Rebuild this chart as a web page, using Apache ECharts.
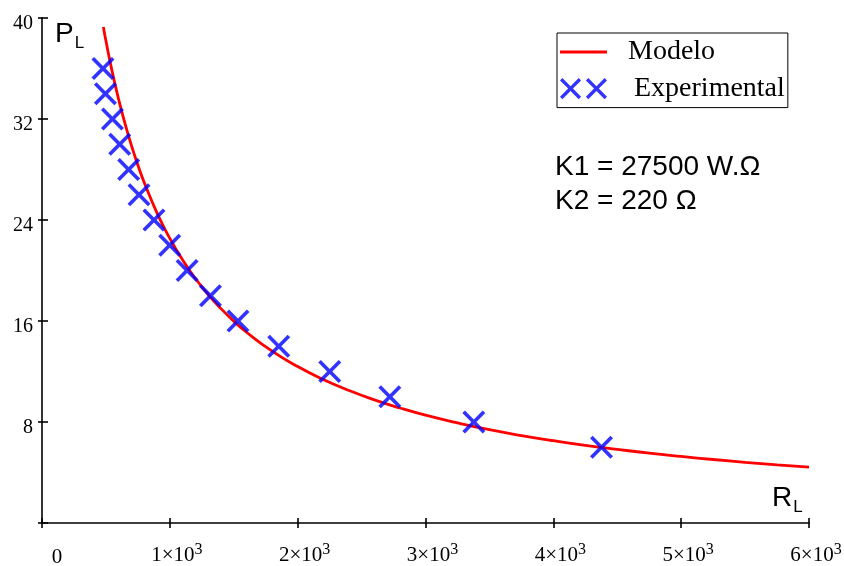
<!DOCTYPE html>
<html>
<head>
<meta charset="utf-8">
<script src="https://cdn.jsdelivr.net/npm/echarts@6/dist/echarts.min.js"></script>
<style>
  html, body { margin: 0; padding: 0; background: #fff; }
  #chart { width: 844px; height: 566px; }
</style>
</head>
<body>
<div id="chart"></div>
<script>
// Load resistance R_L (ohm) and delivered power P_L (W)
const modelR = [480, 500, 550, 600, 650, 700, 750, 800, 900, 1000, 1100, 1200, 1300, 1400, 1500,
                1600, 1800, 2000, 2200, 2400, 2600, 2800, 3000, 3250, 3500, 3750, 4000, 4250,
                4500, 4750, 5000, 5250, 5500, 5750, 6000];
const modelP = [39.29, 38.19, 35.71, 33.54, 31.61, 29.89, 28.35, 26.96, 24.55, 22.54, 20.83, 19.37,
                18.09, 16.98, 15.99, 15.11, 13.61, 12.39, 11.36, 10.50, 9.75, 9.11, 8.54, 7.93,
                7.39, 6.93, 6.52, 6.15, 5.83, 5.53, 5.27, 5.03, 4.81, 4.61, 4.42];

const expR = [477, 496, 551, 608, 678, 759, 876, 999, 1135, 1318, 1533, 1852, 2251, 2721, 3378, 4377];
const expP = [36, 34, 32, 30, 28, 26, 24, 22, 20, 18, 16, 14, 12, 10, 8, 6];

const xTickMantissa = ['0', '1', '2', '3', '4', '5', '6'];
const constantsText = ['K1 = 27500 W.\u03A9', 'K2 = 220 \u03A9'];

const serif = 'Liberation Serif';
const sans = 'Liberation Sans';

// filled "X" glyph, 22x22
const crossPath = 'path://M0,2.5L2.5,0L11,8.5L19.5,0L22,2.5L13.5,11L22,19.5L19.5,22L11,13.5L2.5,22L0,19.5L8.5,11Z';
const doubleCrossPath = 'path://M0,2.5L2.5,0L11,8.5L19.5,0L22,2.5L13.5,11L22,19.5L19.5,22L11,13.5L2.5,22L0,19.5L8.5,11Z' +
  'M27,2.5L29.5,0L38,8.5L46.5,0L49,2.5L40.5,11L49,19.5L46.5,22L38,13.5L29.5,22L27,19.5L35.5,11Z';
// short horizontal bar used as the line key
const lineKeyPath = 'path://M0,0L47,0L47,2.8L0,2.8Z';

const axisLineStyle = { color: '#000', width: 1.6 };

function xLabel(v) {
  const i = Math.round(v / 1000);
  if (i === 0) return '{z|0}';
  return '{n|' + xTickMantissa[i] + '\u00D710}{s|3}';
}

const chart = echarts.init(document.getElementById('chart'), null, { renderer: 'canvas' });

chart.setOption({
  animation: false,
  backgroundColor: '#fff',
  grid: { left: 42, right: 35, top: 18, bottom: 43, containLabel: false, outerBoundsMode: 'none' },
  xAxis: [
    {
      type: 'value', min: 0, max: 6000, interval: 1000,
      axisLine: { show: true, onZero: false, lineStyle: axisLineStyle },
      axisTick: { show: true, length: 5, lineStyle: axisLineStyle },
      splitLine: { show: false },
      axisLabel: {
        margin: 19,
        formatter: xLabel,
        rich: {
          z: { fontFamily: serif, fontSize: 21, color: '#000', lineHeight: 30, padding: [0, 0, 0, 30] },
          n: { fontFamily: serif, fontSize: 21, color: '#000', lineHeight: 24, verticalAlign: 'bottom', padding: [0, 0, 0, 14] },
          s: { fontFamily: serif, fontSize: 16, color: '#000', lineHeight: 24, verticalAlign: 'top' }
        }
      }
    },
    {
      type: 'value', min: 0, max: 6000, interval: 1000, position: 'bottom',
      axisLine: { show: false },
      axisTick: { show: true, inside: true, length: 5, lineStyle: axisLineStyle },
      splitLine: { show: false },
      axisLabel: { show: false }
    }
  ],
  yAxis: [
    {
      type: 'value', min: 0, max: 40, interval: 8,
      axisLine: { show: true, onZero: false, lineStyle: axisLineStyle },
      axisTick: { show: true, length: 4, lineStyle: axisLineStyle },
      splitLine: { show: false },
      axisLabel: {
        margin: 9,
        formatter: v => (v === 0 ? '' : '{v|' + v + '}'),
        rich: {
          v: { fontFamily: serif, fontSize: 20, color: '#000', padding: [11, 0, 0, 0] }
        }
      }
    },
    {
      type: 'value', min: 0, max: 40, interval: 8, position: 'left',
      axisLine: { show: false },
      axisTick: { show: true, inside: true, length: 6, lineStyle: axisLineStyle },
      splitLine: { show: false },
      axisLabel: { show: false }
    }
  ],
  legend: {
    orient: 'vertical',
    left: 557, top: 33,
    backgroundColor: '#fff',
    borderColor: '#000', borderWidth: 1, borderRadius: 0,
    padding: [5, 3, 5, 3],
    itemWidth: 47, itemHeight: 22, itemGap: 8.6,
    selectedMode: false,
    textStyle: {
      fontFamily: serif, fontSize: 28, color: '#000', lineHeight: 28,
      rich: {
        a: { fontFamily: serif, fontSize: 28, color: '#000', lineHeight: 28, padding: [0, 0, 0, 16] },
        b: { fontFamily: serif, fontSize: 28, color: '#000', lineHeight: 28, padding: [0, 0, 0, 22] }
      }
    },
    formatter: name => (name === 'Modelo' ? '{a|Modelo}' : '{b|Experimental}'),
    data: [
      { name: 'Modelo', icon: lineKeyPath, itemStyle: { color: '#ff0000' } },
      { name: 'Experimental', icon: doubleCrossPath, itemStyle: { color: '#0000ff' } }
    ]
  },
  graphic: [
    {
      type: 'text', left: 55, top: 20, silent: true,
      style: {
        text: '{p|P}{l|L}',
        rich: {
          p: { fontFamily: sans, fontSize: 28, fill: '#000', lineHeight: 32, verticalAlign: 'bottom' },
          l: { fontFamily: sans, fontSize: 17, fill: '#000', lineHeight: 32, verticalAlign: 'bottom', padding: [0, 0, -4, 1] }
        }
      }
    },
    {
      type: 'text', left: 772, top: 484, silent: true,
      style: {
        text: '{p|R}{l|L}',
        rich: {
          p: { fontFamily: sans, fontSize: 28, fill: '#000', lineHeight: 32, verticalAlign: 'bottom' },
          l: { fontFamily: sans, fontSize: 17, fill: '#000', lineHeight: 32, verticalAlign: 'bottom', padding: [0, 0, -4, 1] }
        }
      }
    },
    {
      type: 'text', left: 555, top: 151, silent: true,
      style: {
        text: constantsText.join('\n'),
        fontFamily: sans, fontSize: 28, lineHeight: 33.3, fill: '#000'
      }
    }
  ],
  series: [
    {
      name: 'Modelo',
      type: 'line',
      xAxisIndex: 0, yAxisIndex: 0,
      data: modelR.map((r, i) => [r, modelP[i]]),
      smooth: true,
      symbol: 'none',
      lineStyle: { color: '#ff0000', width: 2.8 },
      itemStyle: { color: '#ff0000' },
      silent: true,
      z: 2
    },
    {
      name: 'Experimental',
      type: 'scatter',
      xAxisIndex: 0, yAxisIndex: 0,
      data: expR.map((r, i) => [r, expP[i]]),
      symbol: crossPath,
      symbolSize: 23,
      itemStyle: { color: '#0000ff' },
      silent: true,
      z: 3
    }
  ]
});
</script>
</body>
</html>
